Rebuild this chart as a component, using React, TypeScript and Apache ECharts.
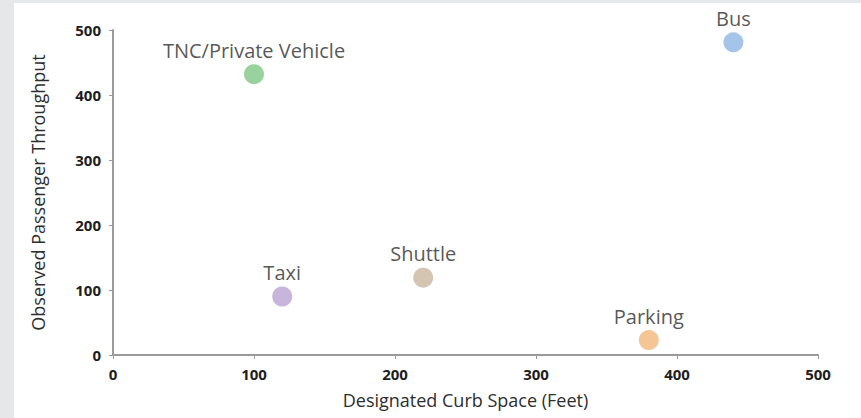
import React, { useEffect, useRef } from "react";
import * as echarts from "echarts";

const categories = ["TNC/Private Vehicle", "Bus", "Taxi", "Shuttle", "Parking"];
const curbSpace = [100, 440, 120, 220, 380];
const throughput = [432, 481, 90, 119, 23];
const colors = ["#80c784", "#8db5e4", "#baa2d2", "#c9b79f", "#f4b67c"];
const xTicks = [0, 100, 200, 300, 400, 500];
const yTicks = [0, 100, 200, 300, 400, 500];

export default function App() {
  const ref = useRef<HTMLDivElement>(null);
  useEffect(() => {
    document.body.style.margin = "0";
    const chart = echarts.init(ref.current!, undefined, { renderer: "svg" });
    const font = "'Open Sans', 'Noto Sans', sans-serif";
    chart.setOption({
      animation: false,
      backgroundColor: "transparent",
      grid: { left: 113, top: 30, right: 43, bottom: 63 },
      xAxis: {
        type: "value",
        min: xTicks[0],
        max: xTicks[xTicks.length - 1],
        interval: 100,
        name: "Designated Curb Space (Feet)",
        nameLocation: "middle",
        nameGap: 36,
        nameTextStyle: { fontFamily: font, fontSize: 18, color: "#2e2e2e" },
        axisLine: { show: true, lineStyle: { color: "#9a9a9a", width: 2 } },
        axisTick: { show: true, length: 4, lineStyle: { color: "#9a9a9a" } },
        axisLabel: { fontFamily: font, fontSize: 15, fontWeight: "bold", color: "#1e1e1e", margin: 11 },
        splitLine: { show: false },
      },
      yAxis: {
        type: "value",
        min: yTicks[0],
        max: yTicks[yTicks.length - 1],
        interval: 100,
        name: "Observed Passenger Throughput",
        nameLocation: "middle",
        nameGap: 66,
        nameTextStyle: { fontFamily: font, fontSize: 18, color: "#2e2e2e" },
        axisLine: { show: true, lineStyle: { color: "#9a9a9a", width: 2 } },
        axisTick: { show: true, length: 4, lineStyle: { color: "#9a9a9a" } },
        axisLabel: { fontFamily: font, fontSize: 15, fontWeight: "bold", color: "#1e1e1e", margin: 12 },
        splitLine: { show: false },
      },
      series: [
        {
          type: "scatter",
          symbolSize: 20,
          data: categories.map((c, i) => ({
            name: c,
            value: [curbSpace[i], throughput[i]],
            itemStyle: { color: colors[i] },
          })),
          label: {
            show: true,
            position: "top",
            distance: 4,
            formatter: (p: any) => p.name,
            fontFamily: font,
            fontSize: 20,
            color: "#2b2b2b",
          },
        },
      ],
    });
    return () => chart.dispose();
  }, []);
  return (
    <div style={{ position: "relative", width: 861, height: 418, background: "#e6e7e9", overflow: "hidden" }}>
      <div style={{ position: "absolute", left: 14, top: 3, right: 0, bottom: 0, background: "#ffffff" }} />
      <div ref={ref} style={{ position: "absolute", left: 0, top: 0, width: 861, height: 418 }} />
    </div>
  );
}
